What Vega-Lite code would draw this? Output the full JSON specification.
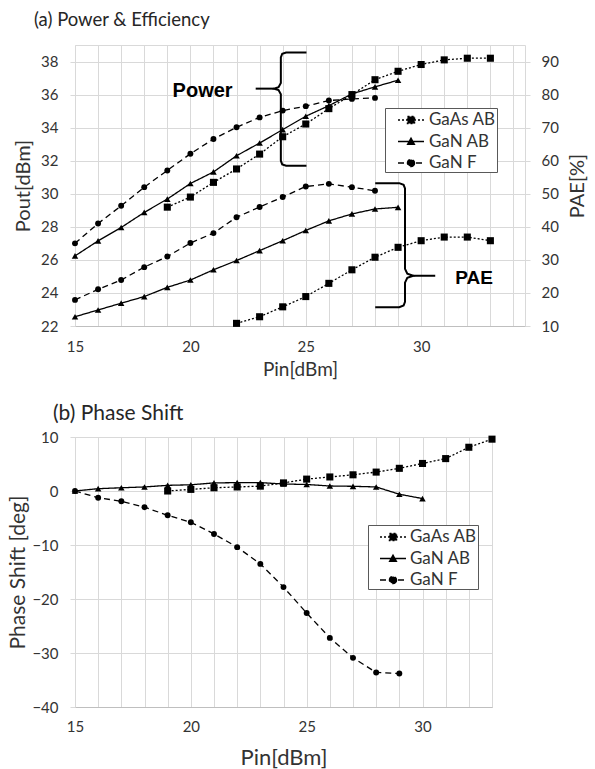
{
  "$schema": "https://vega.github.io/schema/vega-lite/v6.json",
  "background": "white",
  "padding": {"top": 10, "left": 7, "right": 5, "bottom": 5},
  "config": {
    "font": "Lato",
    "view": {"stroke": "#d9d9d9"},
    "axis": {"gridColor": "#d9d9d9", "domainColor": "#bfbfbf", "tickColor": "#d9d9d9", "labelColor": "#333333", "titleColor": "#333333", "labelFont": "Lato", "titleFont": "Lato", "titleFontWeight": "normal", "labelFontSize": 15, "labelOverlap": false},
    "title": {"font": "Lato", "fontWeight": "normal", "color": "#262626"}
  },
  "datasets": {
    "power": [
      {"series": "GaAs AB", "pin": 19, "v": 29.19}, {"series": "GaAs AB", "pin": 20, "v": 29.8}, {"series": "GaAs AB", "pin": 21, "v": 30.69}, {"series": "GaAs AB", "pin": 22, "v": 31.5}, {"series": "GaAs AB", "pin": 23, "v": 32.4}, {"series": "GaAs AB", "pin": 24, "v": 33.45}, {"series": "GaAs AB", "pin": 25, "v": 34.22}, {"series": "GaAs AB", "pin": 26, "v": 35.15}, {"series": "GaAs AB", "pin": 27, "v": 36.0}, {"series": "GaAs AB", "pin": 28, "v": 36.9}, {"series": "GaAs AB", "pin": 29, "v": 37.41}, {"series": "GaAs AB", "pin": 30, "v": 37.82}, {"series": "GaAs AB", "pin": 31, "v": 38.1}, {"series": "GaAs AB", "pin": 32, "v": 38.2}, {"series": "GaAs AB", "pin": 33, "v": 38.2},
      {"series": "GaN AB", "pin": 15, "v": 26.24}, {"series": "GaN AB", "pin": 16, "v": 27.15}, {"series": "GaN AB", "pin": 17, "v": 27.96}, {"series": "GaN AB", "pin": 18, "v": 28.87}, {"series": "GaN AB", "pin": 19, "v": 29.68}, {"series": "GaN AB", "pin": 20, "v": 30.62}, {"series": "GaN AB", "pin": 21, "v": 31.32}, {"series": "GaN AB", "pin": 22, "v": 32.3}, {"series": "GaN AB", "pin": 23, "v": 33.07}, {"series": "GaN AB", "pin": 24, "v": 33.88}, {"series": "GaN AB", "pin": 25, "v": 34.69}, {"series": "GaN AB", "pin": 26, "v": 35.33}, {"series": "GaN AB", "pin": 27, "v": 36.04}, {"series": "GaN AB", "pin": 28, "v": 36.47}, {"series": "GaN AB", "pin": 29, "v": 36.87},
      {"series": "GaN F", "pin": 15, "v": 27.0}, {"series": "GaN F", "pin": 16, "v": 28.2}, {"series": "GaN F", "pin": 17, "v": 29.27}, {"series": "GaN F", "pin": 18, "v": 30.4}, {"series": "GaN F", "pin": 19, "v": 31.41}, {"series": "GaN F", "pin": 20, "v": 32.42}, {"series": "GaN F", "pin": 21, "v": 33.31}, {"series": "GaN F", "pin": 22, "v": 34.02}, {"series": "GaN F", "pin": 23, "v": 34.62}, {"series": "GaN F", "pin": 24, "v": 35.03}, {"series": "GaN F", "pin": 25, "v": 35.3}, {"series": "GaN F", "pin": 26, "v": 35.64}, {"series": "GaN F", "pin": 27, "v": 35.74}, {"series": "GaN F", "pin": 28, "v": 35.8}
    ],
    "pae": [
      {"series": "GaAs AB", "pin": 22, "v": 10.8}, {"series": "GaAs AB", "pin": 23, "v": 12.8}, {"series": "GaAs AB", "pin": 24, "v": 15.8}, {"series": "GaAs AB", "pin": 25, "v": 18.9}, {"series": "GaAs AB", "pin": 26, "v": 22.9}, {"series": "GaAs AB", "pin": 27, "v": 27.0}, {"series": "GaAs AB", "pin": 28, "v": 30.8}, {"series": "GaAs AB", "pin": 29, "v": 33.8}, {"series": "GaAs AB", "pin": 30, "v": 35.8}, {"series": "GaAs AB", "pin": 31, "v": 36.9}, {"series": "GaAs AB", "pin": 32, "v": 36.9}, {"series": "GaAs AB", "pin": 33, "v": 35.8},
      {"series": "GaN AB", "pin": 15, "v": 12.8}, {"series": "GaN AB", "pin": 16, "v": 14.85}, {"series": "GaN AB", "pin": 17, "v": 16.9}, {"series": "GaN AB", "pin": 18, "v": 18.9}, {"series": "GaN AB", "pin": 19, "v": 21.7}, {"series": "GaN AB", "pin": 20, "v": 23.9}, {"series": "GaN AB", "pin": 21, "v": 27.0}, {"series": "GaN AB", "pin": 22, "v": 29.8}, {"series": "GaN AB", "pin": 23, "v": 32.8}, {"series": "GaN AB", "pin": 24, "v": 35.8}, {"series": "GaN AB", "pin": 25, "v": 38.9}, {"series": "GaN AB", "pin": 26, "v": 41.8}, {"series": "GaN AB", "pin": 27, "v": 43.9}, {"series": "GaN AB", "pin": 28, "v": 45.4}, {"series": "GaN AB", "pin": 29, "v": 45.9},
      {"series": "GaN F", "pin": 15, "v": 17.9}, {"series": "GaN F", "pin": 16, "v": 21.1}, {"series": "GaN F", "pin": 17, "v": 23.9}, {"series": "GaN F", "pin": 18, "v": 27.8}, {"series": "GaN F", "pin": 19, "v": 31.0}, {"series": "GaN F", "pin": 20, "v": 35.1}, {"series": "GaN F", "pin": 21, "v": 38.1}, {"series": "GaN F", "pin": 22, "v": 42.9}, {"series": "GaN F", "pin": 23, "v": 46.0}, {"series": "GaN F", "pin": 24, "v": 49.0}, {"series": "GaN F", "pin": 25, "v": 52.2}, {"series": "GaN F", "pin": 26, "v": 53.0}, {"series": "GaN F", "pin": 27, "v": 52.0}, {"series": "GaN F", "pin": 28, "v": 50.9}
    ],
    "phase": [
      {"series": "GaAs AB", "pin": 19, "v": 0.0}, {"series": "GaAs AB", "pin": 20, "v": 0.3}, {"series": "GaAs AB", "pin": 21, "v": 0.6}, {"series": "GaAs AB", "pin": 22, "v": 0.75}, {"series": "GaAs AB", "pin": 23, "v": 0.9}, {"series": "GaAs AB", "pin": 24, "v": 1.5}, {"series": "GaAs AB", "pin": 25, "v": 2.2}, {"series": "GaAs AB", "pin": 26, "v": 2.6}, {"series": "GaAs AB", "pin": 27, "v": 3.0}, {"series": "GaAs AB", "pin": 28, "v": 3.5}, {"series": "GaAs AB", "pin": 29, "v": 4.2}, {"series": "GaAs AB", "pin": 30, "v": 5.1}, {"series": "GaAs AB", "pin": 31, "v": 6.0}, {"series": "GaAs AB", "pin": 32, "v": 8.1}, {"series": "GaAs AB", "pin": 33, "v": 9.6},
      {"series": "GaN AB", "pin": 15, "v": 0.0}, {"series": "GaN AB", "pin": 16, "v": 0.43}, {"series": "GaN AB", "pin": 17, "v": 0.6}, {"series": "GaN AB", "pin": 18, "v": 0.75}, {"series": "GaN AB", "pin": 19, "v": 1.05}, {"series": "GaN AB", "pin": 20, "v": 1.15}, {"series": "GaN AB", "pin": 21, "v": 1.5}, {"series": "GaN AB", "pin": 22, "v": 1.55}, {"series": "GaN AB", "pin": 23, "v": 1.55}, {"series": "GaN AB", "pin": 24, "v": 1.3}, {"series": "GaN AB", "pin": 25, "v": 1.2}, {"series": "GaN AB", "pin": 26, "v": 0.93}, {"series": "GaN AB", "pin": 27, "v": 0.87}, {"series": "GaN AB", "pin": 28, "v": 0.75}, {"series": "GaN AB", "pin": 29, "v": -0.6}, {"series": "GaN AB", "pin": 30, "v": -1.4},
      {"series": "GaN F", "pin": 15, "v": 0.0}, {"series": "GaN F", "pin": 16, "v": -1.24}, {"series": "GaN F", "pin": 17, "v": -1.9}, {"series": "GaN F", "pin": 18, "v": -3.0}, {"series": "GaN F", "pin": 19, "v": -4.5}, {"series": "GaN F", "pin": 20, "v": -5.8}, {"series": "GaN F", "pin": 21, "v": -7.95}, {"series": "GaN F", "pin": 22, "v": -10.4}, {"series": "GaN F", "pin": 23, "v": -13.5}, {"series": "GaN F", "pin": 24, "v": -17.8}, {"series": "GaN F", "pin": 25, "v": -22.6}, {"series": "GaN F", "pin": 26, "v": -27.2}, {"series": "GaN F", "pin": 27, "v": -30.9}, {"series": "GaN F", "pin": 28, "v": -33.6}, {"series": "GaN F", "pin": 29, "v": -33.8}
    ],
    "braceP": [
      {"part": "b", "ord": 1, "pin": 25.03, "v": 38.55}, {"part": "b", "ord": 2, "pin": 24.15, "v": 38.55}, {"part": "b", "ord": 3, "pin": 23.98, "v": 38.47}, {"part": "b", "ord": 4, "pin": 23.92, "v": 38.25}, {"part": "b", "ord": 5, "pin": 23.92, "v": 36.7}, {"part": "b", "ord": 6, "pin": 23.82, "v": 36.45}, {"part": "b", "ord": 7, "pin": 23.62, "v": 36.36}, {"part": "b", "ord": 8, "pin": 23.82, "v": 36.27}, {"part": "b", "ord": 9, "pin": 23.92, "v": 36.02}, {"part": "b", "ord": 10, "pin": 23.92, "v": 32.0}, {"part": "b", "ord": 11, "pin": 23.98, "v": 31.78}, {"part": "b", "ord": 12, "pin": 24.15, "v": 31.7}, {"part": "b", "ord": 13, "pin": 25.03, "v": 31.7},
      {"part": "c", "ord": 1, "pin": 22.83, "v": 36.36}, {"part": "c", "ord": 2, "pin": 23.62, "v": 36.36}
    ],
    "braceE": [
      {"part": "b", "ord": 1, "pin": 28.01, "v": 53.2}, {"part": "b", "ord": 2, "pin": 29.05, "v": 53.2}, {"part": "b", "ord": 3, "pin": 29.24, "v": 52.7}, {"part": "b", "ord": 4, "pin": 29.3, "v": 51.6}, {"part": "b", "ord": 5, "pin": 29.3, "v": 27.3}, {"part": "b", "ord": 6, "pin": 29.4, "v": 25.8}, {"part": "b", "ord": 7, "pin": 29.66, "v": 25.2}, {"part": "b", "ord": 8, "pin": 29.4, "v": 24.6}, {"part": "b", "ord": 9, "pin": 29.3, "v": 23.1}, {"part": "b", "ord": 10, "pin": 29.3, "v": 17.3}, {"part": "b", "ord": 11, "pin": 29.24, "v": 16.2}, {"part": "b", "ord": 12, "pin": 29.05, "v": 15.7}, {"part": "b", "ord": 13, "pin": 28.01, "v": 15.7},
      {"part": "c", "ord": 1, "pin": 29.66, "v": 25.2}, {"part": "c", "ord": 2, "pin": 30.61, "v": 25.2}
    ]
  },
  "concat": [
    {
      "width": 450,
      "height": 281,
      "title": {"text": "(a) Power & Efficiency", "anchor": "start", "frame": "group", "dx": -41, "fontSize": 18.5, "offset": 16},
      "layer": [
        {
          "layer": [
            {
              "data": {"name": "power"},
              "mark": {"type": "line", "color": "black", "strokeWidth": 1.3},
              "encoding": {
                "x": {"field": "pin", "type": "quantitative", "scale": {"domain": [15, 34.5], "nice": false, "zero": false},
                  "axis": {"values": [15,16,17,18,19,20,21,22,23,24,25,26,27,28,29,30,31,32,33,34], "tickCount": 100, "format": "d", "labelExpr": "datum.value % 5 === 0 ? datum.label : ''", "labelOverlap": false, "grid": true, "ticks": false, "labelPadding": 13, "labelFlush": false, "title": "Pin[dBm]", "titleFontSize": 19, "titlePadding": 6}},
                "y": {"field": "v", "type": "quantitative", "scale": {"domain": [22, 39], "nice": false, "zero": false},
                  "axis": {"values": [22,24,26,28,30,32,34,36,38], "tickCount": 100, "format": "d", "labelOverlap": false, "grid": true, "tickSize": 5, "labelPadding": 12, "domain": false, "title": "Pout[dBm]", "titleFontSize": 20, "titlePadding": 7}},
                "strokeDash": {"field": "series", "type": "nominal", "scale": {"domain": ["GaAs AB", "GaN AB", "GaN F"], "range": [[2, 2], [1, 0], [6, 4]]}, "legend": null}
              }
            },
            {
              "data": {"name": "power"},
              "mark": {"type": "point", "filled": true, "color": "black", "opacity": 1},
              "encoding": {
                "x": {"field": "pin", "type": "quantitative", "scale": {"domain": [15, 34.5], "nice": false, "zero": false}},
                "y": {"field": "v", "type": "quantitative", "scale": {"domain": [22, 39], "nice": false, "zero": false}},
                "shape": {"field": "series", "type": "nominal", "scale": {"domain": ["GaAs AB", "GaN AB", "GaN F"], "range": ["square", "triangle-up", "circle"]}, "legend": null},
                "size": {"field": "series", "type": "nominal", "scale": {"domain": ["GaAs AB", "GaN AB", "GaN F"], "range": [50, 35, 45]}, "legend": null}
              }
            },
            {
              "data": {"name": "braceP"},
              "mark": {"type": "line", "color": "black", "strokeWidth": 2},
              "encoding": {
                "x": {"field": "pin", "type": "quantitative", "scale": {"domain": [15, 34.5], "nice": false, "zero": false}},
                "y": {"field": "v", "type": "quantitative", "scale": {"domain": [22, 39], "nice": false, "zero": false}},
                "detail": {"field": "part", "type": "nominal"},
                "order": {"field": "ord", "type": "quantitative"}
              }
            },
            {
              "data": {"values": [{"label": "Power", "pin": 20.53, "v": 36.2}]},
              "mark": {"type": "text", "font": "Liberation Sans", "fontWeight": "bold", "fontSize": 20, "color": "black"},
              "encoding": {
                "x": {"field": "pin", "type": "quantitative", "scale": {"domain": [15, 34.5], "nice": false, "zero": false}},
                "y": {"field": "v", "type": "quantitative", "scale": {"domain": [22, 39], "nice": false, "zero": false}},
                "text": {"field": "label", "type": "nominal"}
              }
            }
          ]
        },
        {
          "layer": [
            {
              "data": {"name": "pae"},
              "mark": {"type": "line", "color": "black", "strokeWidth": 1.3},
              "encoding": {
                "x": {"field": "pin", "type": "quantitative", "scale": {"domain": [15, 34.5], "nice": false, "zero": false}},
                "y": {"field": "v", "type": "quantitative", "scale": {"domain": [10, 95], "nice": false, "zero": false},
                  "axis": {"orient": "right", "values": [10,20,30,40,50,60,70,80,90], "tickCount": 100, "format": "d", "labelOverlap": false, "grid": false, "tickSize": 5, "labelPadding": 11, "domain": false, "title": "PAE[%]", "titleFontSize": 20, "titleAngle": -90, "titleBaseline": "top", "titlePadding": 9}},
                "strokeDash": {"field": "series", "type": "nominal", "scale": {"domain": ["GaAs AB", "GaN AB", "GaN F"], "range": [[2, 2], [1, 0], [6, 4]]}, "legend": null}
              }
            },
            {
              "data": {"name": "pae"},
              "mark": {"type": "point", "filled": true, "color": "black", "opacity": 1},
              "encoding": {
                "x": {"field": "pin", "type": "quantitative", "scale": {"domain": [15, 34.5], "nice": false, "zero": false}},
                "y": {"field": "v", "type": "quantitative", "scale": {"domain": [10, 95], "nice": false, "zero": false}},
                "shape": {"field": "series", "type": "nominal", "scale": {"domain": ["GaAs AB", "GaN AB", "GaN F"], "range": ["square", "triangle-up", "circle"]}, "legend": null},
                "size": {"field": "series", "type": "nominal", "scale": {"domain": ["GaAs AB", "GaN AB", "GaN F"], "range": [50, 35, 45]}, "legend": null}
              }
            },
            {
              "data": {"name": "braceE"},
              "mark": {"type": "line", "color": "black", "strokeWidth": 2},
              "encoding": {
                "x": {"field": "pin", "type": "quantitative", "scale": {"domain": [15, 34.5], "nice": false, "zero": false}},
                "y": {"field": "v", "type": "quantitative", "scale": {"domain": [10, 95], "nice": false, "zero": false}},
                "detail": {"field": "part", "type": "nominal"},
                "order": {"field": "ord", "type": "quantitative"}
              }
            },
            {
              "data": {"values": [{"label": "PAE", "pin": 32.29, "v": 24.45}]},
              "mark": {"type": "text", "font": "Liberation Sans", "fontWeight": "bold", "fontSize": 19, "color": "black"},
              "encoding": {
                "x": {"field": "pin", "type": "quantitative", "scale": {"domain": [15, 34.5], "nice": false, "zero": false}},
                "y": {"field": "v", "type": "quantitative", "scale": {"domain": [10, 95], "nice": false, "zero": false}},
                "text": {"field": "label", "type": "nominal"}
              }
            }
          ]
        },
        {
          "data": {"values": []},
          "mark": {"type": "point", "filled": true, "fill": "black", "stroke": "black", "strokeWidth": 1.2, "opacity": 1},
          "encoding": {
            "shape": {"field": "series", "type": "nominal", "scale": {"domain": ["GaAs AB", "GaN AB", "GaN F"], "range": ["M-1.3,0H1.3M-0.35,-0.35H0.35V0.35H-0.35Z", "M-1.3,0H1.3M0,-0.32L0.33,0.28H-0.33Z", "M-1.3,0H1.3M0.35,0A0.35,0.35,0,1,1,-0.35,0A0.35,0.35,0,1,1,0.35,0Z"]},
              "legend": {"orient": "none", "legendX": 310, "legendY": 63, "title": null, "strokeColor": "#595959", "fillColor": "white", "padding": 1, "symbolSize": 400, "symbolOffset": 14, "labelOffset": 7, "rowPadding": 2.5, "labelFontSize": 17, "labelFont": "Lato", "labelColor": "#333333", "labelExpr": "datum.label + '\u00a0\u00a0\u00a0\u00a0'",
                "encode": {"symbols": {"update": {"stroke": {"value": "black"}, "strokeWidth": {"value": 1.2}, "fill": {"value": "black"}, "opacity": {"value": 1}, "fillOpacity": {"value": 1}, "strokeOpacity": {"value": 1}}}}}},
            "strokeDash": {"field": "series", "type": "nominal", "scale": {"domain": ["GaAs AB", "GaN AB", "GaN F"], "range": [[2, 2], [1, 0], [6, 3]]}}
          }
        }
      ],
      "resolve": {"scale": {"y": "independent", "shape": "independent", "strokeDash": "independent"}}
    },
    {
      "width": 417,
      "height": 270,
      "title": {"text": "(b) Phase Shift", "anchor": "start", "frame": "group", "dx": -22, "fontSize": 21, "offset": 6},
      "layer": [
        {
          "data": {"name": "phase"},
          "mark": {"type": "line", "color": "black", "strokeWidth": 1.3},
          "encoding": {
            "x": {"field": "pin", "type": "quantitative", "scale": {"domain": [15, 33], "nice": false, "zero": false},
              "axis": {"values": [15,16,17,18,19,20,21,22,23,24,25,26,27,28,29,30,31,32,33], "tickCount": 100, "format": "d", "labelExpr": "datum.value % 5 === 0 ? datum.label : ''", "labelOverlap": false, "grid": true, "ticks": false, "labelPadding": 12, "labelFlush": false, "title": "Pin[dBm]", "titleFontSize": 22, "titlePadding": 13}},
            "y": {"field": "v", "type": "quantitative", "scale": {"domain": [-40, 10], "nice": false, "zero": false},
              "axis": {"values": [-40,-30,-20,-10,0,10], "tickCount": 100, "format": "d", "labelOverlap": false, "grid": true, "tickSize": 5, "labelPadding": 12, "domain": false, "title": "Phase Shift [deg]", "titleFontSize": 21, "titlePadding": 3}},
            "strokeDash": {"field": "series", "type": "nominal", "scale": {"domain": ["GaAs AB", "GaN AB", "GaN F"], "range": [[2, 2], [1, 0], [6, 4]]}, "legend": null}
          }
        },
        {
          "data": {"name": "phase"},
          "mark": {"type": "point", "filled": true, "color": "black", "opacity": 1},
          "encoding": {
            "x": {"field": "pin", "type": "quantitative", "scale": {"domain": [15, 33], "nice": false, "zero": false}},
            "y": {"field": "v", "type": "quantitative", "scale": {"domain": [-40, 10], "nice": false, "zero": false}},
            "shape": {"field": "series", "type": "nominal", "scale": {"domain": ["GaAs AB", "GaN AB", "GaN F"], "range": ["square", "triangle-up", "circle"]}, "legend": null},
            "size": {"field": "series", "type": "nominal", "scale": {"domain": ["GaAs AB", "GaN AB", "GaN F"], "range": [50, 35, 45]}, "legend": null}
          }
        },
        {
          "data": {"values": []},
          "mark": {"type": "point", "filled": true, "fill": "black", "stroke": "black", "strokeWidth": 1.2, "opacity": 1},
          "encoding": {
            "shape": {"field": "series", "type": "nominal", "scale": {"domain": ["GaAs AB", "GaN AB", "GaN F"], "range": ["M-1.3,0H1.3M-0.35,-0.35H0.35V0.35H-0.35Z", "M-1.3,0H1.3M0,-0.32L0.33,0.28H-0.33Z", "M-1.3,0H1.3M0.35,0A0.35,0.35,0,1,1,-0.35,0A0.35,0.35,0,1,1,0.35,0Z"]},
              "legend": {"orient": "none", "legendX": 293, "legendY": 88, "title": null, "strokeColor": "#595959", "fillColor": "white", "padding": 1, "symbolSize": 400, "symbolOffset": 13, "labelOffset": 6, "rowPadding": 2.5, "labelFontSize": 17, "labelFont": "Lato", "labelColor": "#333333", "labelExpr": "datum.label + '\u00a0\u00a0\u00a0'",
                "encode": {"symbols": {"update": {"stroke": {"value": "black"}, "strokeWidth": {"value": 1.2}, "fill": {"value": "black"}, "opacity": {"value": 1}, "fillOpacity": {"value": 1}, "strokeOpacity": {"value": 1}}}}}},
            "strokeDash": {"field": "series", "type": "nominal", "scale": {"domain": ["GaAs AB", "GaN AB", "GaN F"], "range": [[2, 2], [1, 0], [6, 3]]}}
          }
        }
      ],
      "resolve": {"scale": {"shape": "independent", "strokeDash": "independent"}}
    }
  ],
  "columns": 1,
  "align": "none",
  "spacing": 22
}
